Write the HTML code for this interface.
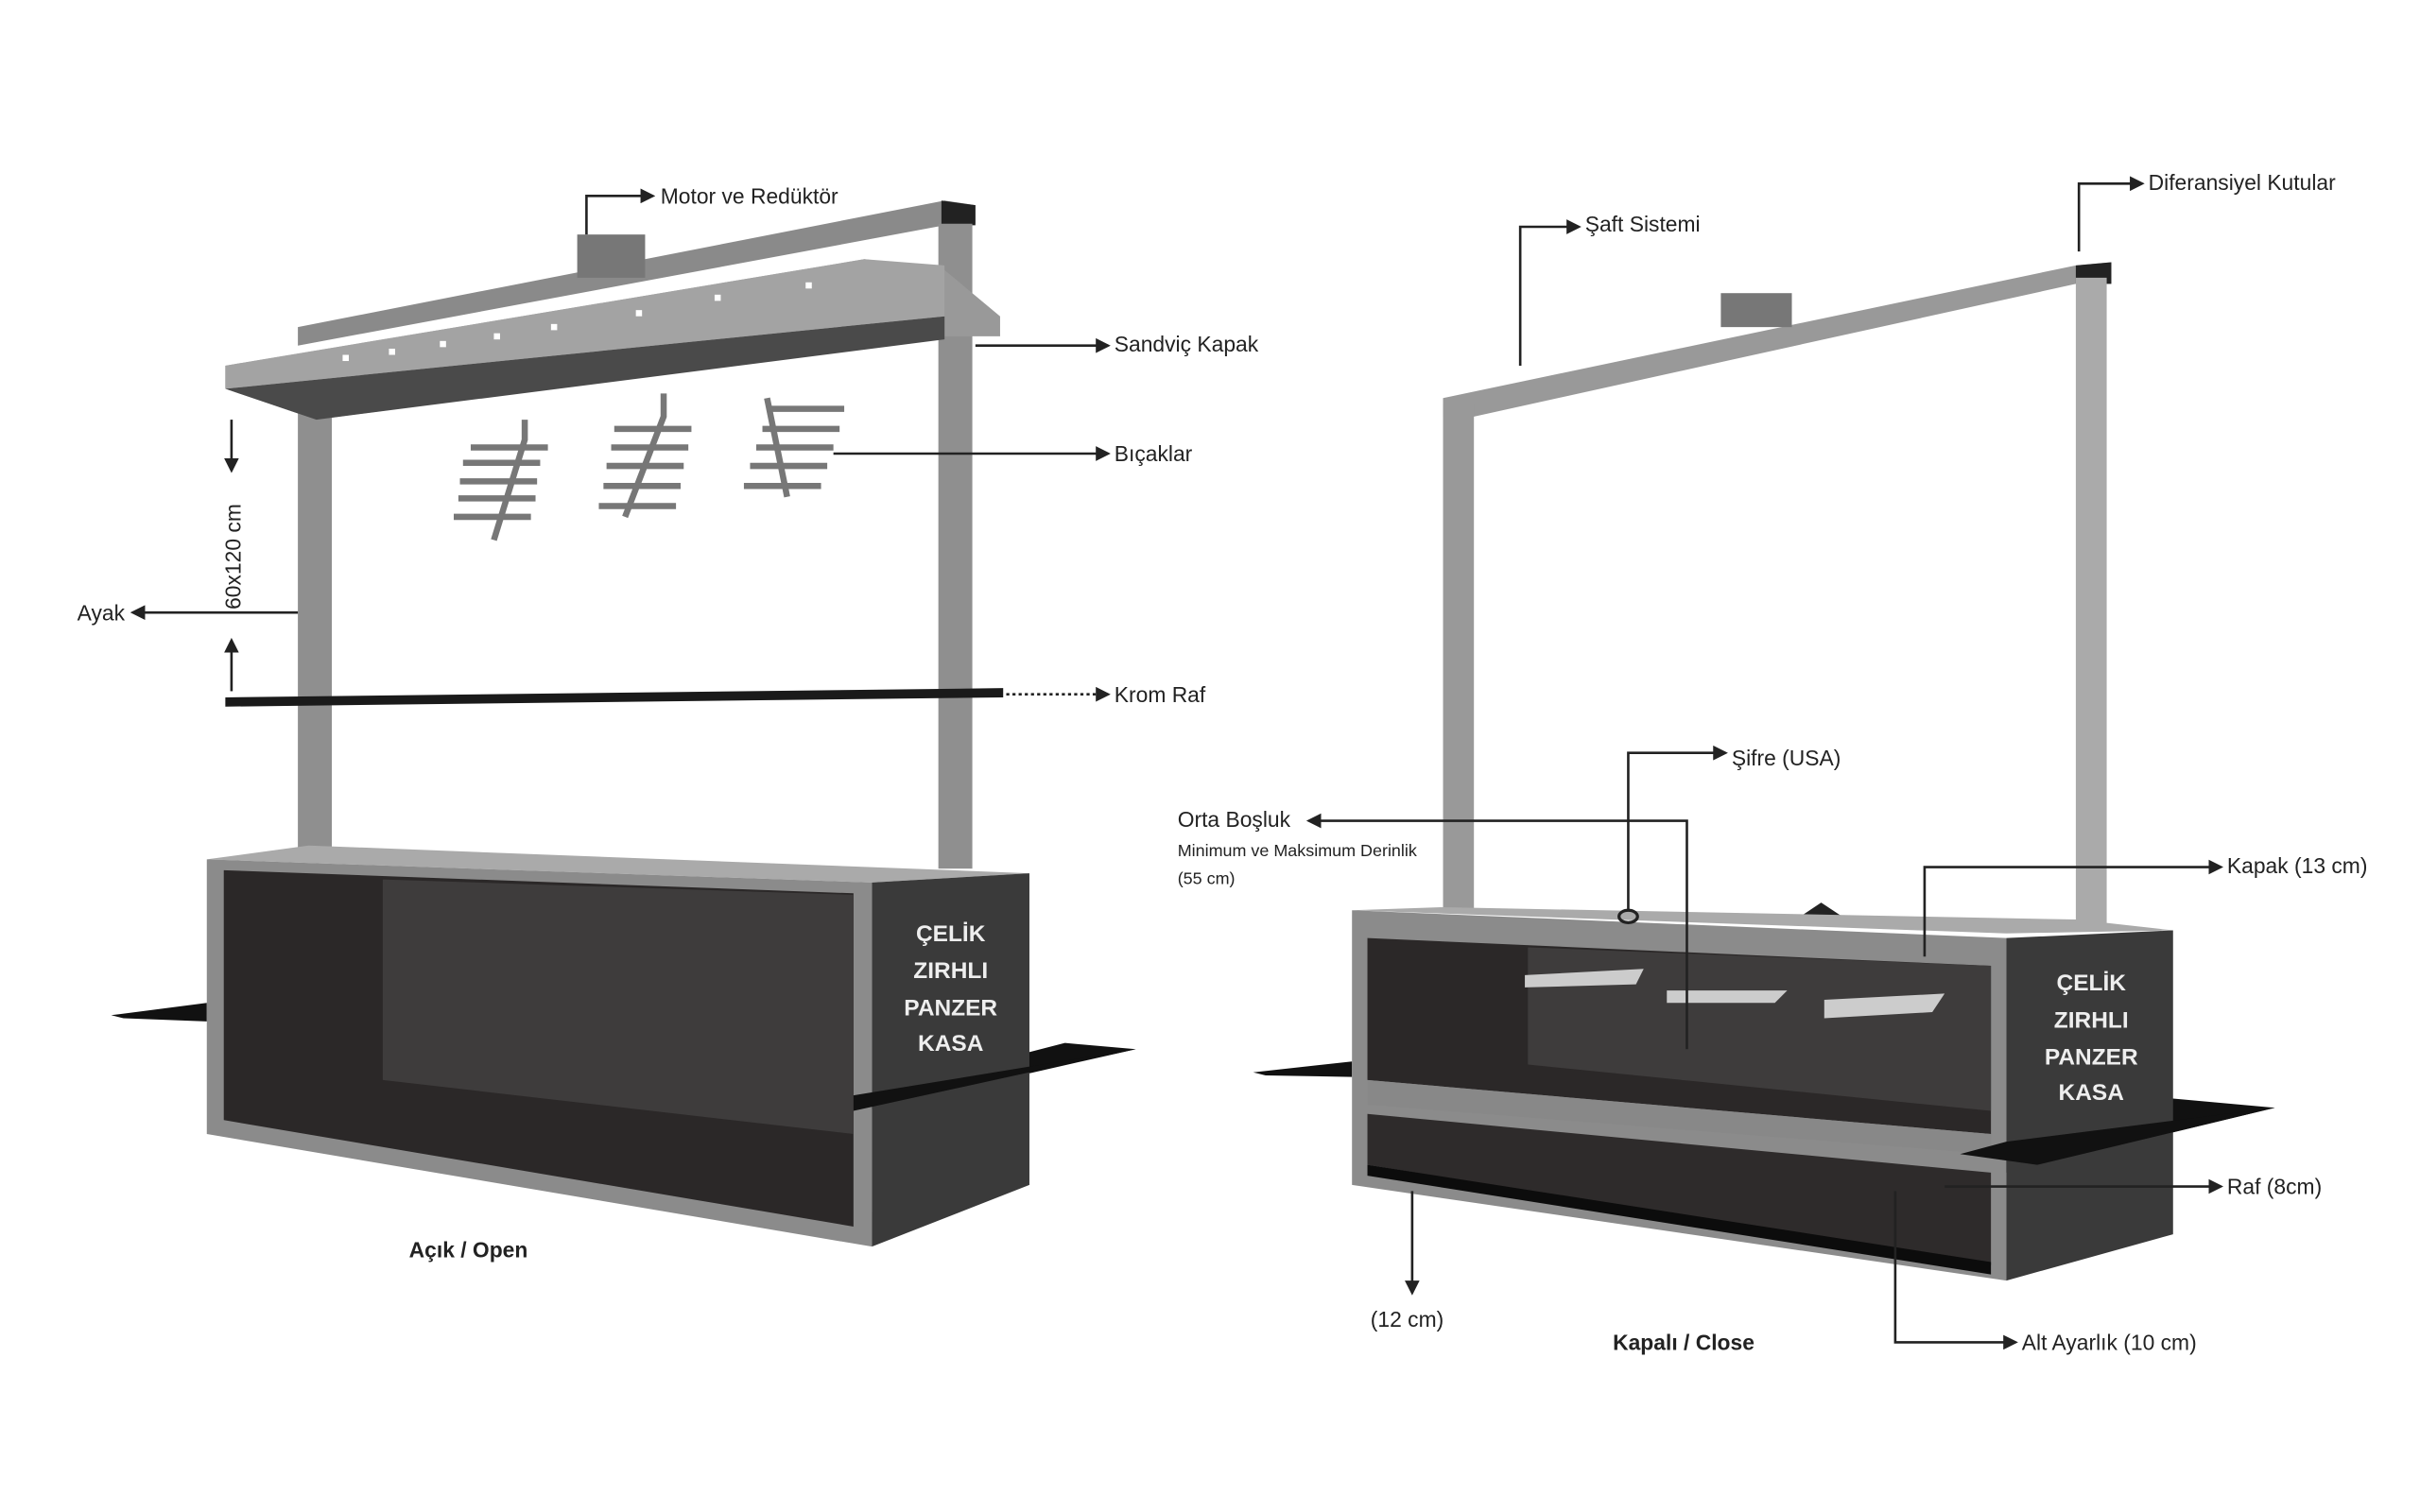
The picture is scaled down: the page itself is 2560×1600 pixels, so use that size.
<!DOCTYPE html>
<html><head><meta charset="utf-8"><style>
html,body{margin:0;padding:0;background:#fff;}
svg{display:block;}
text{font-family:"Liberation Sans",sans-serif;fill:#222;}
</style></head><body>
<svg width="2560" height="1600" viewBox="0 0 1568 980" xmlns="http://www.w3.org/2000/svg">
<defs>
<marker id="a" markerWidth="6" markerHeight="6" refX="5" refY="3" orient="auto"><path d="M0,0L6,3L0,6z" fill="#222"/></marker>
</defs>
<rect width="1568" height="980" fill="#fff"/>

<!-- LEFT UNIT -->
<!-- ground shadows -->
<polygon points="72,658 134,650 134,662 80,660" fill="#111"/>
<polygon points="550,712 690,676 736,680 560,720" fill="#111"/>
<!-- top bar -->
<polygon points="193,212 612,130 632,133 632,145 612,146 193,224" fill="#8a8a8a"/>
<polygon points="610,130 632,133 632,146 610,146" fill="#222"/>
<!-- motor -->
<rect x="374" y="152" width="44" height="28" fill="#777"/>
<!-- posts -->
<rect x="193" y="250" width="22" height="302" fill="#8f8f8f"/>
<rect x="608" y="145" width="22" height="418" fill="#8f8f8f"/>
<!-- sandwich cover -->
<polygon points="146,237 560,168 612,175 648,205 648,218 612,218 205,272 146,252" fill="#999"/>
<polygon points="146,252 612,205 612,220 205,272" fill="#4a4a4a"/>
<polygon points="146,237 560,168 612,172 612,205 146,252" fill="#a3a3a3"/>
<g fill="#fff"><rect x="222" y="230" width="4" height="4"/><rect x="252" y="226" width="4" height="4"/><rect x="285" y="221" width="4" height="4"/><rect x="320" y="216" width="4" height="4"/><rect x="357" y="210" width="4" height="4"/><rect x="412" y="201" width="4" height="4"/><rect x="463" y="191" width="4" height="4"/><rect x="522" y="183" width="4" height="4"/></g>
<!-- hooks -->
<g stroke="#777" stroke-width="4" fill="none">
<path d="M340,272 L340,285 L320,350"/><path d="M305,290h50M300,300h50M298,312h50M297,323h50M294,335h50"/>
<path d="M430,255 L430,270 L405,335"/><path d="M398,278h50M396,290h50M393,302h50M391,315h50M388,328h50"/>
<path d="M497,258 L510,322"/><path d="M497,265h50M494,278h50M490,290h50M486,302h50M482,315h50"/>
</g>
<!-- krom raf -->
<polygon points="146,452 650,446 650,452 146,458" fill="#1a1a1a"/>
<!-- box -->
<polygon points="134,557 200,548 667,566 565,572" fill="#aaa"/>
<polygon points="134,557 565,572 565,808 134,735" fill="#8b8b8b"/>
<polygon points="565,572 667,566 667,768 565,808" fill="#3a3a3a"/>
<polygon points="145,564 553,579 553,795 145,726" fill="#2b2828"/>
<polygon points="248,570 553,580 553,735 248,700" fill="#3e3c3c"/>
<polygon points="553,710 736,680 690,690 553,720" fill="#111"/>
<g font-weight="bold" font-size="15" style="fill:#eee" text-anchor="middle">
<text x="616" y="610" style="fill:#eee">ÇELİK</text><text x="616" y="634" style="fill:#eee">ZIRHLI</text><text x="616" y="658" style="fill:#eee">PANZER</text><text x="616" y="681" style="fill:#eee">KASA</text></g>

<!-- left labels -->
<g stroke="#222" stroke-width="1.6" fill="none">
<path d="M380,152V127H423" marker-end="url(#a)"/>
<path d="M632,224H718" marker-end="url(#a)"/>
<path d="M540,294H718" marker-end="url(#a)"/>
<path d="M193,397H86" marker-end="url(#a)"/>
<path d="M150,272V305" marker-end="url(#a)"/>
<path d="M150,448V415" marker-end="url(#a)"/>
<path d="M652,450H718" stroke-dasharray="2,2" marker-end="url(#a)"/>
</g>
<g font-size="14">
<text x="428" y="132">Motor ve Redüktör</text>
<text x="722" y="228">Sandviç Kapak</text>
<text x="722" y="299">Bıçaklar</text>
<text x="50" y="402">Ayak</text>
<text x="722" y="455">Krom Raf</text>
<text transform="translate(156,395) rotate(-90)" font-size="14">60x120 cm</text>
<text x="265" y="815" font-weight="bold">Açık / Open</text>
</g>

<!-- RIGHT UNIT -->
<polygon points="812,695 876,688 876,698 820,697" fill="#111"/>
<polygon points="1270,752 1408,712 1474,718 1300,760" fill="#111"/>
<polygon points="935,258 1345,172 1368,170 1368,184 1345,184 955,270 935,270" fill="#999"/>
<polygon points="1345,172 1368,170 1368,184 1345,184" fill="#222"/>
<rect x="1115" y="190" width="46" height="22" fill="#777"/>
<rect x="935" y="262" width="20" height="330" fill="#999"/>
<rect x="1345" y="180" width="20" height="420" fill="#aaa"/>
<polygon points="1165,595 1180,585 1195,595" fill="#222"/>
<polygon points="876,590 1300,605 1408,603 1345,596 935,588" fill="#aaa"/>
<polygon points="876,590 1300,608 1300,830 876,768" fill="#8b8b8b"/>
<polygon points="1300,608 1408,603 1408,800 1300,830" fill="#3a3a3a"/>
<polygon points="886,608 1290,626 1290,735 886,700" fill="#2b2828"/>
<polygon points="990,614 1290,626 1290,720 990,690" fill="#3e3c3c"/>
<polygon points="886,700 1290,735 1290,748 886,716" fill="#888"/>
<polygon points="886,722 1290,760 1290,820 886,755" fill="#2e2b2b"/>
<polygon points="886,755 1290,818 1290,826 886,762" fill="#0c0c0c"/>
<polygon points="1270,748 1300,740 1474,718 1320,755" fill="#111"/>
<g fill="#ccc"><polygon points="988,632 1065,628 1060,638 988,640"/><polygon points="1080,642 1158,642 1150,650 1080,650"/><polygon points="1182,648 1260,644 1252,656 1182,660"/></g>
<ellipse cx="1055" cy="594" rx="6" ry="4" fill="none" stroke="#222" stroke-width="2"/>
<g font-weight="bold" font-size="15" text-anchor="middle">
<text x="1355" y="642" style="fill:#eee">ÇELİK</text><text x="1355" y="666" style="fill:#eee">ZIRHLI</text><text x="1355" y="690" style="fill:#eee">PANZER</text><text x="1355" y="713" style="fill:#eee">KASA</text></g>

<g stroke="#222" stroke-width="1.6" fill="none">
<path d="M985,237V147H1023" marker-end="url(#a)"/>
<path d="M1347,163V119H1388" marker-end="url(#a)"/>
<path d="M1055,590V488H1118" marker-end="url(#a)"/>
<path d="M1093,680V532H848" marker-end="url(#a)"/>
<path d="M1247,620V562H1439" marker-end="url(#a)"/>
<path d="M1260,769H1439" marker-end="url(#a)"/>
<path d="M1228,772V870H1306" marker-end="url(#a)"/>
<path d="M915,772V838" marker-end="url(#a)"/>
</g>
<g font-size="14">
<text x="1027" y="150">Şaft Sistemi</text>
<text x="1392" y="123">Diferansiyel Kutular</text>
<text x="1122" y="496">Şifre (USA)</text>
<text x="763" y="536">Orta Boşluk</text>
<text x="763" y="555" font-size="11">Minimum ve Maksimum Derinlik</text>
<text x="763" y="573" font-size="11">(55 cm)</text>
<text x="1443" y="566">Kapak (13 cm)</text>
<text x="1443" y="774">Raf (8cm)</text>
<text x="1310" y="875">Alt Ayarlık (10 cm)</text>
<text x="888" y="860">(12 cm)</text>
<text x="1045" y="875" font-weight="bold">Kapalı / Close</text>
</g>
</svg>
</body></html>
